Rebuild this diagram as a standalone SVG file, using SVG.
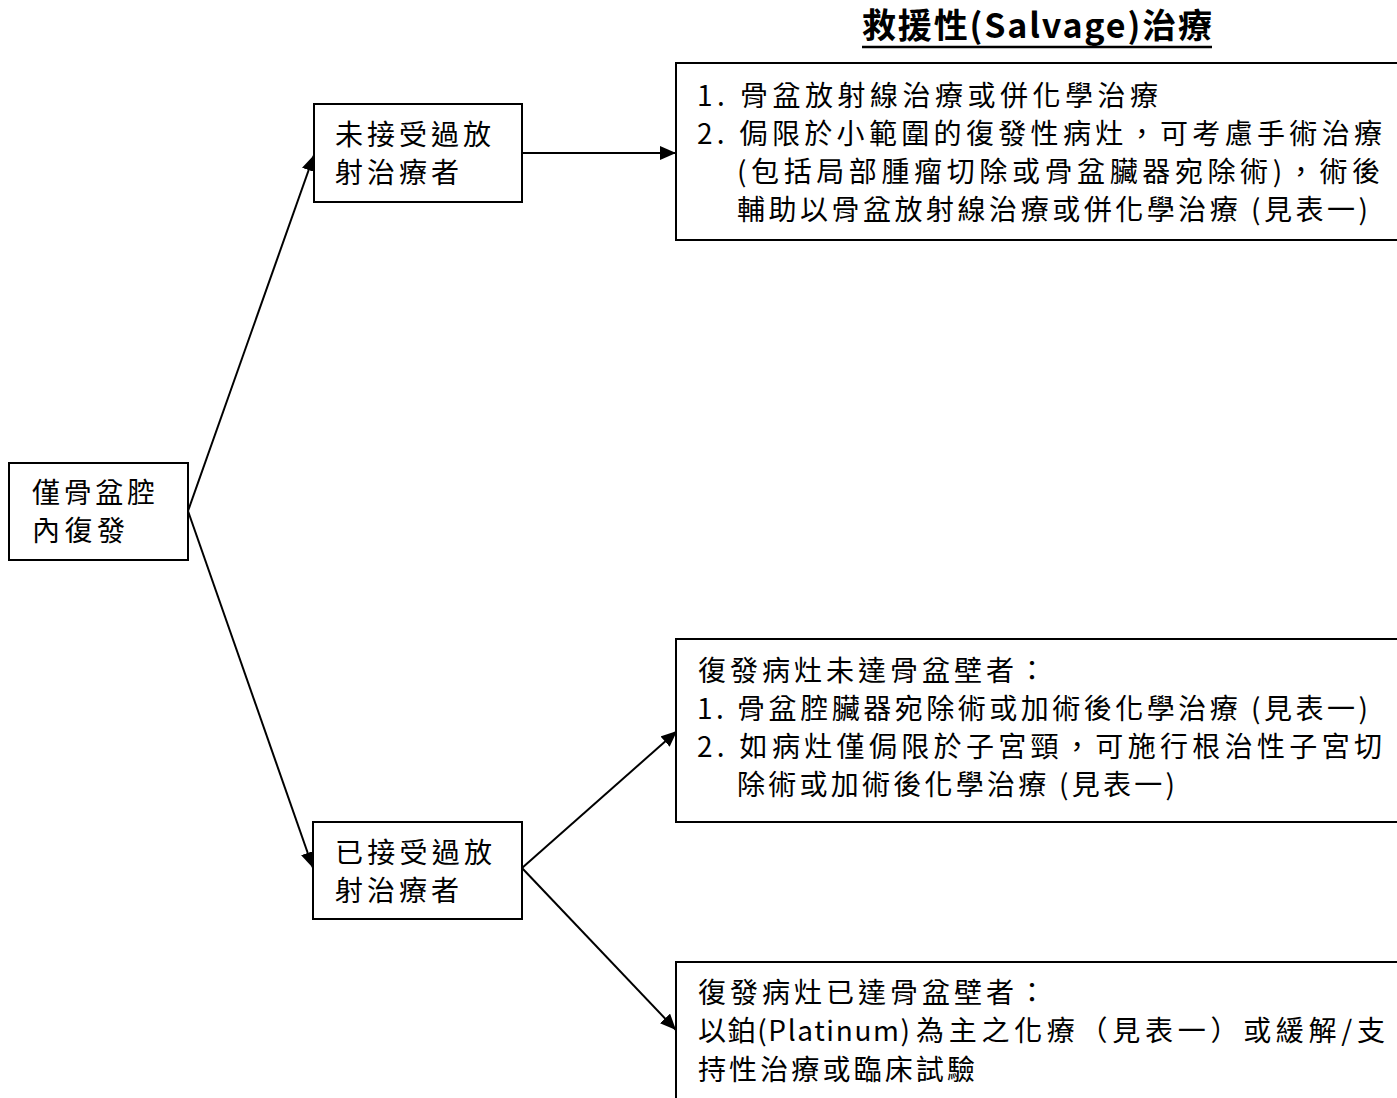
<svg xmlns="http://www.w3.org/2000/svg" width="1397" height="1098" viewBox="0 0 1397 1098">
<style>
.box{fill:#fff;stroke:#000;stroke-width:2}
.t{font-family:"Noto Sans CJK TC","Noto Sans CJK SC",sans-serif;font-size:28px;fill:#000}
.title{font-family:"Noto Sans CJK TC","Noto Sans CJK SC",sans-serif;font-size:34px;font-weight:bold;fill:#000}
.c{stroke:#000;stroke-width:2;fill:none}
</style>
<defs>
<marker id="ah" markerUnits="userSpaceOnUse" markerWidth="17" markerHeight="14" refX="16" refY="7" orient="auto">
<path d="M0,0 L16,7 L0,14 z" fill="#000"/>
</marker>
</defs>
<rect width="1397" height="1098" fill="#fff"/>
<g id="title">
<text class="title" x="862" y="38" textLength="350" lengthAdjust="spacing">救援性(Salvage)治療</text>
<line x1="862" y1="47" x2="1212" y2="47" stroke="#000" stroke-width="2.5"/>
</g>
<g id="connectors">
<line class="c" x1="188" y1="511" x2="314" y2="155" marker-end="url(#ah)"/>
<line class="c" x1="188" y1="511" x2="313" y2="868" marker-end="url(#ah)"/>
<line class="c" x1="522" y1="153" x2="676" y2="153" marker-end="url(#ah)"/>
<line class="c" x1="522" y1="868" x2="677" y2="731" marker-end="url(#ah)"/>
<line class="c" x1="522" y1="868" x2="676" y2="1030" marker-end="url(#ah)"/>
</g>
<g id="n-root">
<rect class="box" x="9" y="463" width="179" height="97"/>
<text class="t" x="32" y="503" textLength="123" lengthAdjust="spacing">僅骨盆腔</text>
<text class="t" x="32" y="541" textLength="93" lengthAdjust="spacing">內復發</text>
</g>
<g id="n-no-rt">
<rect class="box" x="314" y="104" width="208" height="98"/>
<text class="t" x="335" y="145" textLength="156" lengthAdjust="spacing">未接受過放</text>
<text class="t" x="335" y="183" textLength="124" lengthAdjust="spacing">射治療者</text>
</g>
<g id="n-rt">
<rect class="box" x="313" y="822" width="209" height="97"/>
<text class="t" x="335" y="863" textLength="157" lengthAdjust="spacing">已接受過放</text>
<text class="t" x="335" y="901" textLength="124" lengthAdjust="spacing">射治療者</text>
</g>
<g id="n-salvage-a">
<rect class="box" x="676" y="63" width="730" height="177"/>
<text class="t" x="697" y="106" textLength="461" lengthAdjust="spacing">1. 骨盆放射線治療或併化學治療</text>
<text class="t" x="697" y="144" textLength="685" lengthAdjust="spacing">2. 侷限於小範圍的復發性病灶，可考慮手術治療</text>
<text class="t" x="737" y="182" textLength="643" lengthAdjust="spacing">(包括局部腫瘤切除或骨盆臟器宛除術)，術後</text>
<text class="t" x="737" y="220" textLength="631" lengthAdjust="spacing">輔助以骨盆放射線治療或併化學治療 (見表一)</text>
</g>
<g id="n-salvage-b">
<rect class="box" x="676" y="639" width="730" height="183"/>
<text class="t" x="698" y="681" textLength="348" lengthAdjust="spacing">復發病灶未達骨盆壁者：</text>
<text class="t" x="697" y="719" textLength="671" lengthAdjust="spacing">1. 骨盆腔臟器宛除術或加術後化學治療 (見表一)</text>
<text class="t" x="697" y="757" textLength="685" lengthAdjust="spacing">2. 如病灶僅侷限於子宮頸，可施行根治性子宮切</text>
<text class="t" x="737" y="795" textLength="438" lengthAdjust="spacing">除術或加術後化學治療 (見表一)</text>
</g>
<g id="n-salvage-c">
<rect class="box" x="676" y="962" width="730" height="150"/>
<text class="t" x="698" y="1003" textLength="348" lengthAdjust="spacing">復發病灶已達骨盆壁者：</text>
<text class="t" y="1041"><tspan x="698" textLength="212" lengthAdjust="spacing">以鉑(Platinum)</tspan><tspan x="916" textLength="469" lengthAdjust="spacing">為主之化療（見表一）或緩解/支</tspan></text>
<text class="t" x="698" y="1080" textLength="277" lengthAdjust="spacing">持性治療或臨床試驗</text>
</g>
</svg>
